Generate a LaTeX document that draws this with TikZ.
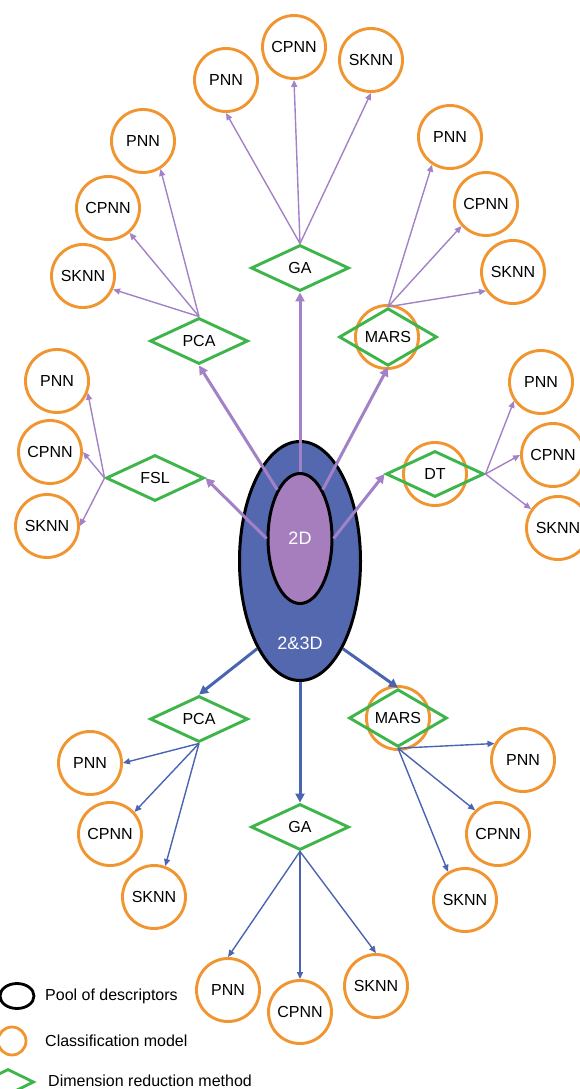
\documentclass[tikz,border=0pt]{standalone}
\usepackage{fontspec}
\setmainfont{Liberation Sans}
\usetikzlibrary{shapes.geometric,arrows.meta}
\definecolor{ringorange}{HTML}{F0952F}
\definecolor{boxgreen}{HTML}{3DB54A}
\definecolor{lilac}{HTML}{A381C6}
\definecolor{deepblue}{HTML}{4A64B2}
\definecolor{poolblue}{HTML}{5468B0}
\definecolor{poolpurple}{HTML}{A67EBE}

\begin{document}
\begin{tikzpicture}[x=1pt, y=-1pt,
    model/.style={circle, draw=ringorange, line width=2.9pt, minimum size=63pt, inner sep=0pt, font=\fontsize{16}{18}\selectfont},
    method/.style={diamond, draw=boxgreen, line width=2.9pt, minimum width=98pt, minimum height=46pt, inner sep=0pt, font=\fontsize{16}{18}\selectfont},
    ring/.style={circle, draw=ringorange, line width=2.9pt, minimum size=63pt, inner sep=0pt},
    pool/.style={ellipse, draw=black, line width=3pt, inner sep=0pt, text=white, font=\fontsize{18}{20}\selectfont},
    lead2d/.style={lilac, line width=3pt, -{Triangle[length=9pt,width=9pt]}},
    lead3d/.style={deepblue, line width=3pt, -{Triangle[length=9pt,width=9pt]}},
    link2d/.style={lilac, line width=1.4pt, -{Triangle[length=7pt,width=6pt]}},
    link3d/.style={deepblue, line width=1.4pt, -{Triangle[length=7pt,width=6pt]}},
    keytext/.style={anchor=west, inner sep=0pt, font=\fontsize{16}{18}\selectfont}]
    \useasboundingbox (0,0) rectangle (579,1089);
    %
    \node[pool, fill=poolblue, minimum width=121pt, minimum height=239pt] (outer) at (300,561) {};
    \node[pool, fill=poolpurple, minimum width=64pt, minimum height=130pt] (inner) at (300,538.5) {2D};
    \node[text=white, font=\fontsize{18}{20}\selectfont] (outerlbl) at (300,643) {2\&3D};
    %
    \node[ring] (marsUring) at (387,337) {};
    \node[ring] (dtUring) at (435,474) {};
    \node[ring] (marsLring) at (398,718) {};
    \node[method] (gaU) at (300,268) {GA};
    \node[method] (pcaU) at (199,341) {PCA};
    \node[method] (marsU) at (388,337) {MARS};
    \node[method] (fslU) at (155,478) {FSL};
    \node[method] (dtU) at (435,474) {DT};
    \node[method] (pcaL) at (199,719) {PCA};
    \node[method] (gaL) at (300,827) {GA};
    \node[method] (marsL) at (398,718) {MARS};
    %
    \node[model] (gaUpnn) at (226,80) {PNN};
    \node[model] (gaUcpnn) at (294,47) {CPNN};
    \node[model] (gaUsknn) at (371,60) {SKNN};
    \node[model] (pcaUpnn) at (143,141) {PNN};
    \node[model] (pcaUcpnn) at (108,208) {CPNN};
    \node[model] (pcaUsknn) at (83,276) {SKNN};
    \node[model] (marsUpnn) at (450,137) {PNN};
    \node[model] (marsUcpnn) at (486,204) {CPNN};
    \node[model] (marsUsknn) at (513,272) {SKNN};
    \node[model] (fslUpnn) at (57,381) {PNN};
    \node[model] (fslUcpnn) at (50,452) {CPNN};
    \node[model] (fslUsknn) at (47,526) {SKNN};
    \node[model] (dtUpnn) at (541,382) {PNN};
    \node[model] (dtUcpnn) at (553,455) {CPNN};
    \node[model] (dtUsknn) at (558,528) {SKNN};
    \node[model] (pcaLpnn) at (90,763) {PNN};
    \node[model] (pcaLcpnn) at (110,834) {CPNN};
    \node[model] (pcaLsknn) at (154,897) {SKNN};
    \node[model] (marsLpnn) at (523,760) {PNN};
    \node[model] (marsLcpnn) at (498,834) {CPNN};
    \node[model] (marsLsknn) at (465,900) {SKNN};
    \node[model] (gaLpnn) at (228,990) {PNN};
    \node[model] (gaLcpnn) at (300,1012) {CPNN};
    \node[model] (gaLsknn) at (376,986) {SKNN};
    %
    \draw[lead2d] (inner.north) -- (gaU.south);
    \draw[lead2d] (inner.115) -- (pcaU.south);
    \draw[lead2d] (inner.65) -- (marsU.south);
    \draw[lead2d] (inner.west) -- (fslU.east);
    \draw[lead2d] (inner.east) -- (dtU.west);
    \draw[lead3d] (outer.244) -- (pcaL.north);
    \draw[lead3d] (outer.south) -- (gaL.north);
    \draw[lead3d] (outer.296) -- (marsL.north);
    %
    \draw[link2d] (gaU.north) -- (gaUpnn.south);
    \draw[link2d] (gaU.north) -- (gaUcpnn.south);
    \draw[link2d] (gaU.north) -- (gaUsknn.south);
    \draw[link2d] (pcaU.north) -- (pcaUpnn.-58);
    \draw[link2d] (pcaU.north) -- (pcaUcpnn.-49);
    \draw[link2d] (pcaU.north) -- (pcaUsknn.-24);
    \draw[link2d] (marsU.north) -- (marsUpnn.237);
    \draw[link2d] (marsU.north) -- (marsUcpnn.222);
    \draw[link2d] (marsU.north) -- (marsUsknn.215);
    \draw[link2d] (fslU.west) -- (fslUpnn.-21);
    \draw[link2d] (fslU.west) -- (fslUcpnn.east);
    \draw[link2d] (fslU.west) -- (fslUsknn.east);
    \draw[link2d] (dtU.east) -- (dtUpnn.215);
    \draw[link2d] (dtU.east) -- (dtUcpnn.west);
    \draw[link2d] (dtU.east) -- (dtUsknn.145);
    %
    \draw[link3d] (pcaL.south) -- (pcaLpnn.east);
    \draw[link3d] (pcaL.south) -- (pcaLcpnn.42);
    \draw[link3d] (pcaL.south) -- (pcaLsknn.70);
    \draw[link3d] (gaL.south) -- (gaLpnn.north);
    \draw[link3d] (gaL.south) -- (gaLcpnn.north);
    \draw[link3d] (gaL.south) -- (gaLsknn.north);
    \draw[link3d] (marsL.south) -- (marsLpnn.150);
    \draw[link3d] (marsL.south) -- (marsLcpnn.134);
    \draw[link3d] (marsL.south) -- (marsLsknn.121);
    %
    \node[ellipse, draw=black, line width=2.8pt, minimum width=34pt, minimum height=25pt, inner sep=0pt] (poolkey) at (17,996) {};
    \node[circle, draw=ringorange, line width=2.8pt, minimum size=28pt, inner sep=0pt] (modelkey) at (12,1041) {};
    \node[diamond, draw=boxgreen, line width=2.8pt, minimum width=52pt, minimum height=26pt, inner sep=0pt] (methodkey) at (8,1082) {};
    \node[keytext] (poolkeytext) at (45,996) {Pool of descriptors};
    \node[keytext] (modelkeytext) at (45,1041) {Classification model};
    \node[keytext] (methodkeytext) at (48,1081) {Dimension reduction method};
\end{tikzpicture}
\end{document}
